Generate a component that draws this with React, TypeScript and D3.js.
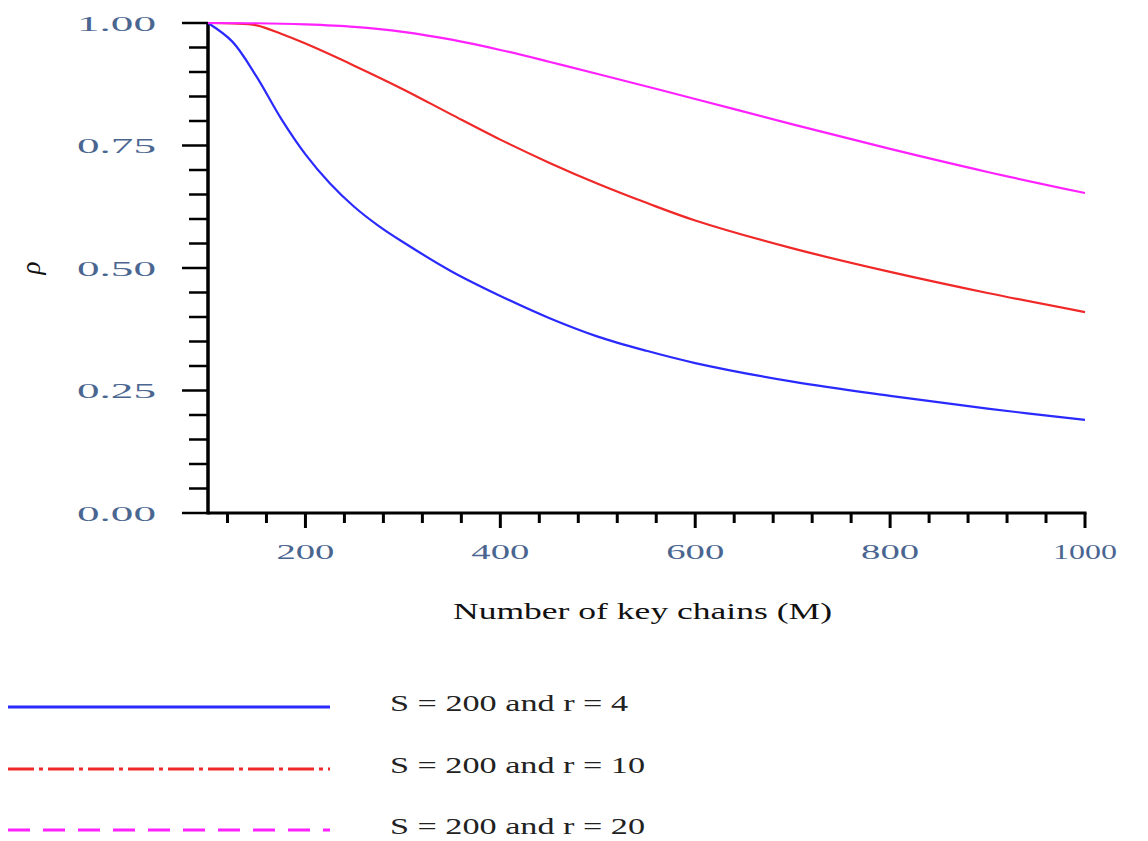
import { useEffect, useRef } from 'react';
import * as d3 from 'd3';

// key chain counts (M) sampled along each curve
const blueM = [100, 125, 150, 175, 200, 225, 250, 275, 300, 350, 400, 450, 500, 550, 600, 700, 800, 900, 1000];
const blueRho = [1.0, 0.962, 0.89, 0.805, 0.732, 0.673, 0.625, 0.586, 0.553, 0.493, 0.443, 0.398, 0.36, 0.331, 0.306, 0.268, 0.239, 0.213, 0.19];

const redM = [100, 125, 150, 175, 200, 250, 300, 350, 400, 450, 500, 550, 600, 700, 800, 900, 1000];
const redRho = [1.0, 0.999, 0.995, 0.978, 0.958, 0.913, 0.865, 0.813, 0.762, 0.715, 0.672, 0.633, 0.597, 0.54, 0.492, 0.449, 0.41];

const magentaM = [100, 150, 200, 250, 300, 350, 400, 450, 500, 600, 700, 800, 900, 1000];
const magentaRho = [1.0, 0.9995, 0.997, 0.992, 0.982, 0.966, 0.945, 0.921, 0.896, 0.845, 0.793, 0.743, 0.696, 0.653];

const xTickLabels = [200, 400, 600, 800, 1000];
const yTickLabels = [0, 0.25, 0.5, 0.75, 1];

const seriesNames = ['S = 200 and r = 4', 'S = 200 and r = 10', 'S = 200 and r = 20'];

export default function App() {
  const ref = useRef(null);

  useEffect(() => {
    const svg = d3.select(ref.current);
    svg.selectAll('*').remove();

    const x = d3.scaleLinear().domain([100, 1000]).range([208, 1085]);
    const y = d3.scaleLinear().domain([0, 1]).range([513, 23]);

    const labelColor = '#4a6690';
    const serif = '"Liberation Serif", "Times New Roman", serif';

    // y axis
    svg.append('line')
      .attr('x1', x(100)).attr('x2', x(100))
      .attr('y1', y(1) - 1).attr('y2', y(0) + 1.5)
      .attr('stroke', '#000').attr('stroke-width', 3.5);

    const yMinor = d3.range(0, 1.0001, 0.05);
    svg.append('g')
      .selectAll('line')
      .data(yMinor)
      .join('line')
      .attr('x1', (d) => (Math.abs(d * 4 - Math.round(d * 4)) < 1e-6 ? 182 : 189))
      .attr('x2', x(100))
      .attr('y1', (d) => y(d))
      .attr('y2', (d) => y(d))
      .attr('stroke', '#000')
      .attr('stroke-width', 2.5);

    svg.append('g')
      .selectAll('text')
      .data(yTickLabels)
      .join('text')
      .attr('x', 156)
      .attr('y', (d) => y(d))
      .attr('dy', '0.36em')
      .attr('text-anchor', 'end')
      .attr('font-family', serif)
      .attr('font-size', 22)
      .attr('fill', labelColor)
      .attr('textLength', 79)
      .attr('lengthAdjust', 'spacingAndGlyphs')
      .text((d) => d3.format('.2f')(d));

    // x axis
    svg.append('line')
      .attr('x1', x(100)).attr('x2', x(1000) + 1.5)
      .attr('y1', y(0)).attr('y2', y(0))
      .attr('stroke', '#000').attr('stroke-width', 3);

    const xMinor = d3.range(120, 1001, 40);
    svg.append('g')
      .selectAll('line')
      .data(xMinor)
      .join('line')
      .attr('x1', (d) => x(d))
      .attr('x2', (d) => x(d))
      .attr('y1', y(0))
      .attr('y2', (d) => y(0) + (d % 200 === 0 ? 15 : 10))
      .attr('stroke', '#000')
      .attr('stroke-width', 3);

    svg.append('g')
      .selectAll('text')
      .data(xTickLabels)
      .join('text')
      .attr('x', (d) => x(d))
      .attr('y', 551)
      .attr('dy', '0.36em')
      .attr('text-anchor', 'middle')
      .attr('font-family', serif)
      .attr('font-size', 22)
      .attr('fill', labelColor)
      .attr('textLength', (d) => (d >= 1000 ? 64 : 58))
      .attr('lengthAdjust', 'spacingAndGlyphs')
      .text((d) => d);

    svg.append('text')
      .attr('x', 453)
      .attr('y', 610)
      .attr('dy', '0.36em')
      .attr('font-family', serif)
      .attr('font-size', 24)
      .attr('fill', '#111')
      .attr('textLength', 379)
      .attr('lengthAdjust', 'spacingAndGlyphs')
      .text('Number of key chains (M)');

    svg.append('text')
      .attr('transform', 'translate(32,268) rotate(-90)')
      .attr('text-anchor', 'middle')
      .attr('dy', '0.3em')
      .attr('font-family', serif)
      .attr('font-style', 'italic')
      .attr('font-size', 27)
      .attr('fill', '#111')
      .text('ρ');

    // curves
    const series = [
      { m: blueM, rho: blueRho, color: '#2a2aff', dash: null },
      { m: redM, rho: redRho, color: '#f02828', dash: '26 5 4 5' },
      { m: magentaM, rho: magentaRho, color: '#ff22ff', dash: '22 13' },
    ];

    const line = d3
      .line()
      .x((d) => x(d[0]))
      .y((d) => y(d[1]))
      .curve(d3.curveCatmullRom.alpha(0.5));

    series.forEach((s) => {
      svg.append('path')
        .datum(s.m.map((m, i) => [m, s.rho[i]]))
        .attr('d', line)
        .attr('fill', 'none')
        .attr('stroke', s.color)
        .attr('stroke-width', 2.2);
    });

    // legend
    const legendY = [707, 769, 830];
    const legendWidth = [238, 255, 255];
    const legend = svg.append('g');
    series.forEach((s, i) => {
      legend.append('line')
        .attr('x1', 8).attr('x2', 330)
        .attr('y1', legendY[i]).attr('y2', legendY[i])
        .attr('stroke', s.color)
        .attr('stroke-width', 3)
        .attr('stroke-dasharray', s.dash);
      legend.append('text')
        .attr('x', 390)
        .attr('y', legendY[i] - 4)
        .attr('dy', '0.35em')
        .attr('font-family', serif)
        .attr('font-size', 24)
        .attr('fill', '#222')
        .attr('textLength', legendWidth[i])
        .attr('lengthAdjust', 'spacingAndGlyphs')
        .text(seriesNames[i]);
    });
  }, []);

  return (
    <svg
      ref={ref}
      width={1148}
      height={841}
      style={{ position: 'absolute', left: 0, top: 0, background: '#fff' }}
    />
  );
}
